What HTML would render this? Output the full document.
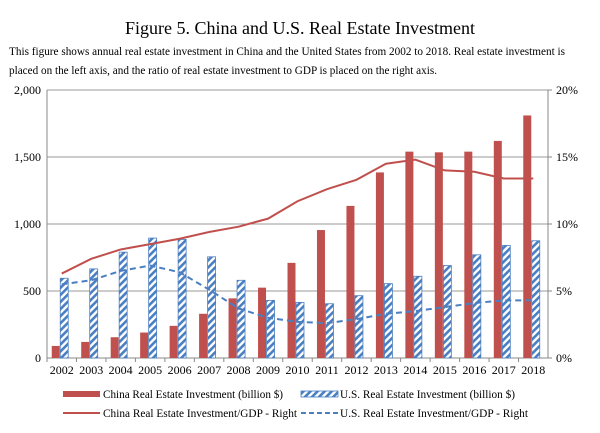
<!DOCTYPE html>
<html><head><meta charset="utf-8"><style>
body{margin:0;background:#fff;width:600px;height:428px;overflow:hidden;font-family:"Liberation Serif",serif}
</style></head><body>
<svg width="600" height="428" xmlns="http://www.w3.org/2000/svg" font-family="Liberation Serif, serif">
<defs><pattern id="hatch" patternUnits="userSpaceOnUse" width="5" height="5" patternTransform="rotate(45)"><rect width="5" height="5" fill="#fff"/><rect width="2.6" height="5" fill="#4a7fc1"/></pattern></defs>
<text x="300" y="34" font-size="18" text-anchor="middle">Figure 5. China and U.S. Real Estate Investment</text>
<text x="9" y="55" font-size="11.8" textLength="556" lengthAdjust="spacingAndGlyphs">This figure shows annual real estate investment in China and the United States from 2002 to 2018. Real estate investment is</text>
<text x="9" y="74" font-size="11.8" textLength="428" lengthAdjust="spacingAndGlyphs">placed on the left axis, and the ratio of real estate investment to GDP is placed on the right axis.</text>
<g id="plot"></g>
<g font-size="12">
<rect x="63" y="391" width="37" height="6" fill="#c0504d"/>
<text x="103" y="398" textLength="180" lengthAdjust="spacingAndGlyphs">China Real Estate Investment (billion $)</text>
<rect x="301" y="391" width="37" height="6" fill="url(#hatch)" stroke="#4a7fc1" stroke-width="0.8"/>
<text x="340" y="398" textLength="175" lengthAdjust="spacingAndGlyphs">U.S. Real Estate Investment (billion $)</text>
<line x1="63" y1="413" x2="100" y2="413" stroke="#c0504d" stroke-width="2"/>
<text x="103" y="417" textLength="194" lengthAdjust="spacingAndGlyphs">China Real Estate Investment/GDP - Right</text>
<line x1="301" y1="413" x2="338" y2="413" stroke="#4a7fc1" stroke-width="2" stroke-dasharray="5,3"/>
<text x="340" y="417" textLength="188" lengthAdjust="spacingAndGlyphs">U.S. Real Estate Investment/GDP - Right</text>
</g>
</svg>
<script>
const years=[2002,2003,2004,2005,2006,2007,2008,2009,2010,2011,2012,2013,2014,2015,2016,2017,2018];
const chinaInv=[90,120,155,190,240,330,445,525,710,955,1135,1385,1540,1535,1540,1620,1810];
const usInv=[595,665,790,895,885,755,580,430,415,405,465,555,610,690,770,840,875];
const chinaRatio=[6.3,7.4,8.1,8.5,8.9,9.4,9.8,10.4,11.7,12.6,13.3,14.5,14.8,14.0,13.9,13.4,13.4];
const usRatio=[5.5,5.8,6.5,6.9,6.4,5.1,3.7,3.0,2.7,2.6,2.9,3.3,3.5,3.8,4.1,4.3,4.3];
const leftTicks=[0,500,1000,1500,2000];
const rightTicks=[0,5,10,15,20];
const NS="http://www.w3.org/2000/svg";
const g=document.getElementById('plot');
const X0=47,X1=548,Y0=358,Y1=90;
const band=(X1-X0)/years.length;
const xc=i=>X0+band*(i+0.5);
const yL=v=>Y0-(v/2000)*(Y0-Y1);
const yR=v=>Y0-(v/20)*(Y0-Y1);
function el(t,a){const e=document.createElementNS(NS,t);for(const k in a)e.setAttribute(k,a[k]);g.appendChild(e);return e;}
leftTicks.forEach((t,i)=>{
  const l=el('line',{x1:X0,x2:X1,y1:yL(t),y2:yL(t),stroke:t===0?'#888':'#999','stroke-width':1});
  
  
  const tx=el('text',{x:X0-6,y:yL(t)+4,'font-size':12,'text-anchor':'end'});
  tx.textContent=t.toLocaleString('en-US');
  
  
});
rightTicks.forEach(t=>{
  const tx=el('text',{x:X1+8,y:yR(t)+4,'font-size':12});
  tx.textContent=t+'%';
  
  
  const tk=el('line',{x1:X1,x2:X1+4,y1:yR(t),y2:yR(t),stroke:'#888'});
  
  
});
const la=el('line',{x1:X0,x2:X0,y1:Y1,y2:Y0,stroke:'#888'});


const ra=el('line',{x1:X1,x2:X1,y1:Y1,y2:Y0,stroke:'#888'});


years.forEach((y,i)=>{
  const tk=el('line',{x1:X0+band*i,x2:X0+band*i,y1:Y0,y2:Y0+4,stroke:'#888'});
  
  
  const tx=el('text',{x:xc(i),y:Y0+16,'font-size':12,'text-anchor':'middle'});
  tx.textContent=y;
  
  
  const b1=el('rect',{x:xc(i)-10,y:yL(chinaInv[i]),width:8,height:Y0-yL(chinaInv[i]),fill:'#c0504d'});
  
  
  const b2=el('rect',{x:xc(i)-1.5,y:yL(usInv[i]),width:8,height:Y0-yL(usInv[i]),fill:'url(#hatch)',stroke:'#4a7fc1','stroke-width':0.8});
  
  
});
const cl=el('polyline',{points:chinaRatio.map((v,i)=>xc(i)+','+yR(v)).join(' '),fill:'none',stroke:'#c0504d','stroke-width':2});


const ul=el('polyline',{points:usRatio.map((v,i)=>xc(i)+','+yR(v)).join(' '),fill:'none',stroke:'#4a7fc1','stroke-width':2,'stroke-dasharray':'6,4'});


</script>
</body></html>
